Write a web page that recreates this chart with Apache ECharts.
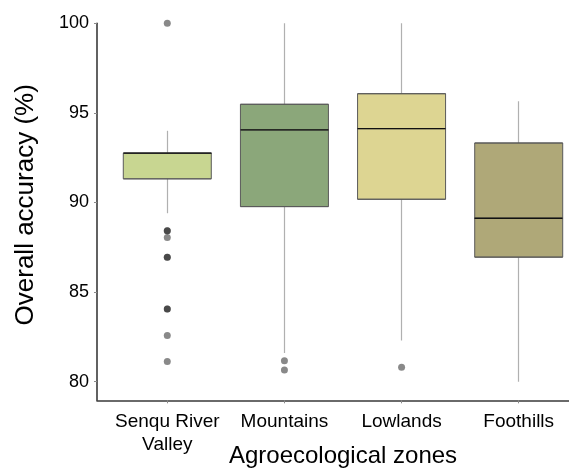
<!DOCTYPE html>
<html>
<head>
<meta charset="utf-8">
<script src="https://cdn.jsdelivr.net/npm/echarts@6/dist/echarts.min.js"></script>
<style>
html,body{margin:0;padding:0;background:#fff;}
#chart{width:569px;height:472px;}
</style>
</head>
<body>
<div id="chart"></div>
<script>
// ---- data ----
var categories = ['Senqu River\nValley', 'Mountains', 'Lowlands', 'Foothills'];
var whiskerLow  = [89.4, 81.6, 82.3, 80.0];
var q1          = [91.32, 89.77, 90.18, 86.95];
var median      = [92.75, 94.05, 94.12, 89.12];
var q3          = [92.75, 95.48, 96.07, 93.32];
var whiskerHigh = [94.0, 100.0, 100.0, 95.65];
var outliersSenqu     = [100.0, 88.42, 88.42, 88.05, 86.95, 86.95, 84.05, 84.05, 82.58, 81.13];
var outliersMountains = [81.17, 80.65];
var outliersLowlands  = [80.81];
var outliersFoothills = [];
var yTicks = [80, 85, 90, 95, 100];
var fills = ['#c8d691', '#8ba77a', '#ddd592', '#afa878'];

// ggplot-like discrete axis: categories at 1..4, panel from 0.4 to 4.6 (step 0.2 slots)
var slotsPerUnit = 5, padSlots = 3;
var axisData = [];
var nSlots = (categories.length - 1) * slotsPerUnit + 2 * padSlots + 1;
for (var s = 0; s < nSlots; s++) axisData.push('');
var catIndex = categories.map(function (c, i) { return padSlots + i * slotsPerUnit; });
catIndex.forEach(function (idx, i) { axisData[idx] = categories[i]; });
function isCat(idx) { return catIndex.indexOf(idx) >= 0; }

var whiskerData = categories.map(function (c, i) {
  return [catIndex[i], q1[i], q1[i], whiskerLow[i], whiskerHigh[i]];
});
var boxData = categories.map(function (c, i) {
  return { value: [catIndex[i], q1[i], q1[i], median[i], q3[i], q3[i]],
           itemStyle: { color: fills[i] } };
});
var medianData = categories.map(function (c, i) {
  return [catIndex[i], median[i], median[i], median[i], median[i]];
});
var outlierLists = [outliersSenqu, outliersMountains, outliersLowlands, outliersFoothills];
var outlierData = [];
outlierLists.forEach(function (list, i) {
  list.forEach(function (v) { outlierData.push([catIndex[i], v]); });
});

var font = 'Liberation Sans, Arial, Helvetica, sans-serif';
var chart = echarts.init(document.getElementById('chart'), null, { renderer: 'canvas' });
chart.setOption({
  animation: false,
  backgroundColor: '#ffffff',
  grid: { left: 97, top: 23.3, height: 377, width: 492, containLabel: false, outerBoundsMode: 'none' },
  xAxis: {
    type: 'category',
    data: axisData,
    boundaryGap: false,
    name: 'Agroecological zones',
    nameLocation: 'middle',
    nameGap: 44,
    nameMoveOverlap: false,
    nameTextStyle: { fontFamily: font, fontSize: 24, color: '#000' },
    axisLine: { lineStyle: { color: '#3a3a3a', width: 1.6 } },
    axisTick: { show: true, length: 3, lineStyle: { color: '#8a8a8a', width: 1 },
                interval: function (idx) { return isCat(idx); } },
    axisLabel: { fontFamily: font, fontSize: 19, color: '#000', margin: 10, lineHeight: 23,
                 interval: function (idx) { return isCat(idx); } },
    splitLine: { show: false }
  },
  yAxis: {
    type: 'value',
    min: 78.96,
    max: 100,
    name: 'Overall accuracy (%)',
    nameLocation: 'middle',
    nameGap: 58,
    nameMoveOverlap: false,
    nameTextStyle: { fontFamily: font, fontSize: 26, color: '#000', padding: [0, 0, 0, 14] },
    axisLine: { show: true, lineStyle: { color: '#3a3a3a', width: 1.6 } },
    axisTick: { show: true, length: 3, customValues: yTicks, lineStyle: { color: '#8a8a8a', width: 1 } },
    axisLabel: { fontFamily: font, fontSize: 18, color: '#000', margin: 8, customValues: yTicks },
    splitLine: { show: false }
  },
  series: [
    {
      name: 'whiskers',
      type: 'candlestick',
      z: 1,
      barWidth: 1,
      encode: { x: 0, y: [1, 2, 3, 4] },
      itemStyle: { color: '#b0b0b0', color0: '#b0b0b0', borderColor: '#b0b0b0', borderColor0: '#b0b0b0', borderColorDoji: '#b0b0b0', borderWidth: 1.2 },
      data: whiskerData
    },
    {
      name: 'boxes',
      type: 'boxplot',
      z: 2,
      boxWidth: [88, 88],
      encode: { x: 0, y: [1, 2, 3, 4, 5] },
      itemStyle: { borderColor: '#5a5a5a', borderWidth: 1 },
      data: boxData
    },
    {
      name: 'median',
      type: 'candlestick',
      z: 3,
      barWidth: 88,
      encode: { x: 0, y: [1, 2, 3, 4] },
      itemStyle: { color: '#111', color0: '#111', borderColor: '#111', borderColor0: '#111', borderColorDoji: '#111', borderWidth: 1.3 },
      data: medianData
    },
    {
      name: 'outliers',
      type: 'scatter',
      z: 4,
      symbol: 'circle',
      symbolSize: 7,
      itemStyle: { color: 'rgba(0,0,0,0.58)' },
      data: outlierData
    }
  ]
});
</script>
</body>
</html>
